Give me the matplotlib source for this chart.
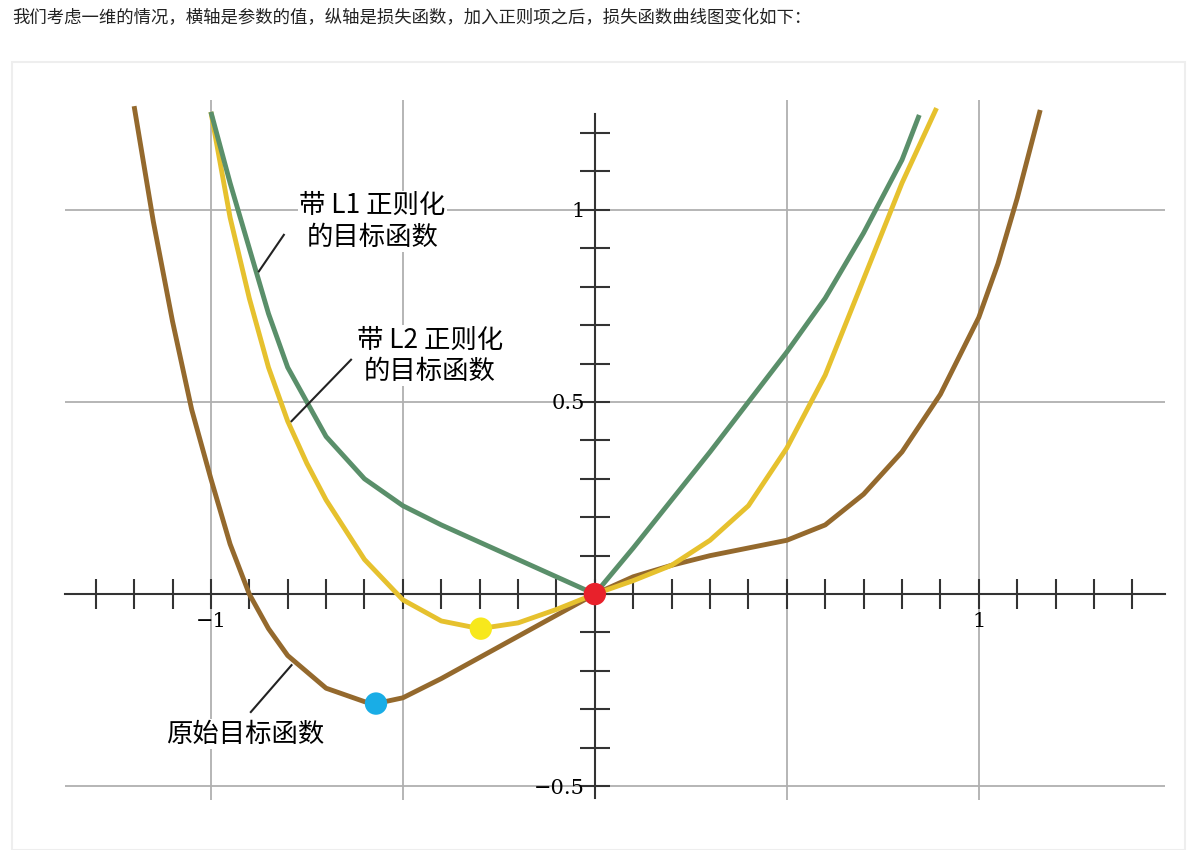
import numpy as np
import matplotlib.pyplot as plt

plt.rcParams['font.family'] = ['Noto Sans CJK SC', 'DejaVu Sans']

# values
x_orig = [-1.2, -1.15, -1.1, -1.05, -1.0, -0.95, -0.9, -0.85, -0.8, -0.7, -0.6, -0.57, -0.5, -0.4, -0.3,
          -0.2, -0.1, 0.0, 0.1, 0.2, 0.3, 0.4, 0.5, 0.6, 0.7, 0.8, 0.9, 1.0, 1.05, 1.1, 1.16]
y_orig = [1.27, 0.97, 0.71, 0.48, 0.30, 0.13, 0.0, -0.09, -0.16, -0.245, -0.28, -0.285, -0.27, -0.22, -0.165,
          -0.11, -0.055, 0.0, 0.045, 0.075, 0.10, 0.12, 0.14, 0.18, 0.26, 0.37, 0.52, 0.72, 0.86, 1.03, 1.26]
x_l2 = [-1.0, -0.95, -0.9, -0.85, -0.8, -0.75, -0.7, -0.6, -0.5, -0.4, -0.3, -0.2, -0.1, 0.0,
        0.1, 0.2, 0.3, 0.4, 0.5, 0.6, 0.7, 0.8, 0.89]
y_l2 = [1.255, 0.98, 0.77, 0.59, 0.45, 0.34, 0.245, 0.09, -0.015, -0.07, -0.09, -0.075, -0.04, 0.0,
        0.035, 0.075, 0.14, 0.23, 0.38, 0.57, 0.82, 1.07, 1.265]
x_l1 = [-1.0, -0.95, -0.9, -0.85, -0.8, -0.7, -0.6, -0.5, -0.4, -0.3, -0.2, -0.1, 0.0,
        0.1, 0.2, 0.3, 0.4, 0.5, 0.6, 0.7, 0.8, 0.845]
y_l1 = [1.255, 1.07, 0.9, 0.73, 0.59, 0.41, 0.30, 0.23, 0.18, 0.135, 0.09, 0.045, 0.0,
        0.12, 0.245, 0.37, 0.5, 0.63, 0.77, 0.94, 1.13, 1.247]
min_points = [(-0.57, -0.285, '#19ade6'), (-0.297, -0.09, '#f7e81c'), (0.0, 0.0, '#e8212b')]

header = '我们考虑一维的情况，横轴是参数的值，纵轴是损失函数，加入正则项之后，损失函数曲线图变化如下：'

fig = plt.figure(figsize=(11.93, 8.5), dpi=100)
fig.text(12 / 1193, 1 - 18 / 850, header, fontsize=12.5, va='center', color='#222222')
fig.add_artist(plt.Rectangle((12 / 1193, 0), 1173 / 1193, 788 / 850, transform=fig.transFigure,
                             fill=False, edgecolor='#eeeeee', lw=1.5))

ax = fig.add_axes([65 / 1193, 50 / 850, 1100 / 1193, 700 / 850])
ax.set_xlim(-1.38, 1.485)
ax.set_ylim(-0.536, 1.286)

for v in (-1, -0.5, 0.5, 1):
    ax.axvline(v, color='#b0b0b0', lw=1.3, zorder=0)
for v in (-0.5, 0.5, 1):
    ax.axhline(v, color='#b0b0b0', lw=1.3, zorder=0)

for s in ('top', 'right'):
    ax.spines[s].set_visible(False)
ax.spines['left'].set_position(('data', 0))
ax.spines['bottom'].set_position(('data', 0))
ax.spines['left'].set_bounds(-0.53, 1.25)
for s in ('left', 'bottom'):
    ax.spines[s].set_color('#333333')
    ax.spines[s].set_linewidth(1.5)

xt = np.round(np.arange(-1.3, 1.45, 0.1), 1)
yt = np.round(np.arange(-0.5, 1.25, 0.1), 1)
ax.set_xticks(xt)
ax.set_xticklabels(['−1' if v == -1 else '1' if v == 1 else '' for v in xt])
ax.set_yticks(yt)
ax.set_yticklabels(['−0.5' if v == -0.5 else '0.5' if v == 0.5 else '1' if v == 1 else '' for v in yt])
ax.tick_params(direction='inout', length=22, width=1.5, color='#333333', labelsize=15)
ax.tick_params(axis='x', pad=2)
ax.tick_params(axis='y', pad=-4)
for lab in ax.get_xticklabels() + ax.get_yticklabels():
    lab.set_fontfamily(['DejaVu Serif'])

ax.plot(x_orig, y_orig, color='#94692d', lw=3.5, solid_capstyle='butt', zorder=3)
ax.plot(x_l2, y_l2, color='#e6c12e', lw=3.5, solid_capstyle='butt', zorder=3)
ax.plot(x_l1, y_l1, color='#5a8f6a', lw=3.5, solid_capstyle='butt', zorder=3)
for px, py, c in min_points:
    ax.scatter([px], [py], s=260, color=c, zorder=5, edgecolor='none')

box = dict(facecolor='white', edgecolor='none', pad=1)
ax.plot([-0.875, -0.81], [0.84, 0.935], color='#222222', lw=1.5, zorder=4)
ax.text(-0.58, 0.97, '带 L1 正则化\n的目标函数', fontsize=19, ha='center', va='center',
        linespacing=1.2, bbox=box, zorder=4)
ax.plot([-0.79, -0.635], [0.45, 0.61], color='#222222', lw=1.5, zorder=4)
ax.text(-0.43, 0.62, '带 L2 正则化\n的目标函数', fontsize=19, ha='center', va='center',
        linespacing=1.2, bbox=box, zorder=4)
ax.plot([-0.79, -0.896], [-0.185, -0.307], color='#222222', lw=1.5, zorder=4)
ax.text(-0.91, -0.365, '原始目标函数', fontsize=19, ha='center', va='center', bbox=box, zorder=4)

fig.savefig('out.png', dpi=100)
